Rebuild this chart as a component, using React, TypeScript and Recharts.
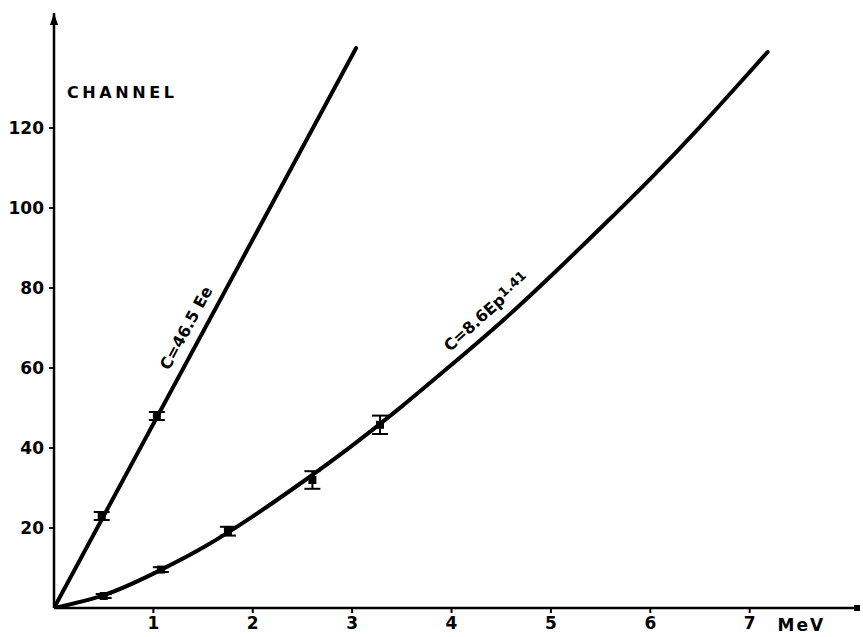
import React from 'react';
import {
  ComposedChart,
  Line,
  Scatter,
  ErrorBar,
  XAxis,
  YAxis,
  ReferenceDot,
} from 'recharts';

// Electron line, C = 46.5 Ee
const electronEnergy = [0, 3.04];
const electronChannel = [0, 140];

// Proton curve, C = 8.6 Ep^1.41
const protonEnergy = [0, 0.5, 1, 1.5, 2, 2.5, 3, 3.5, 4, 4.5, 5, 5.5, 6, 6.5, 7, 7.18];
const protonChannel = [0, 3.2, 8.6, 15.1, 22.9, 31.5, 40.6, 50.4, 60.8, 71.5, 83, 95, 107.3, 120.3, 134, 139];

// Measured points with their errors
const electronPointE = [0.48, 1.035];
const electronPointC = [23, 48];
const electronPointErr = [1, 1];

const protonPointE = [0.5, 1.075, 1.75, 2.6, 3.28];
const protonPointC = [3, 9.6, 19.2, 32, 45.8];
const protonPointErr = [0.5, 0.6, 1.1, 2.2, 2.3];

const xTicks = [1, 2, 3, 4, 5, 6, 7];
const yTicks = [20, 40, 60, 80, 100, 120];
const X_MAX = 8.11;
const Y_MAX = 148.75;

const FONT = '"DejaVu Sans", sans-serif';

const electronLine = electronEnergy.map((e, i) => ({ e, c: electronChannel[i] }));
const protonLine = protonEnergy.map((e, i) => ({ e, c: protonChannel[i] }));
const electronPoints = electronPointE.map((e, i) => ({ e, c: electronPointC[i], err: electronPointErr[i] }));
const protonPoints = protonPointE.map((e, i) => ({ e, c: protonPointC[i], err: protonPointErr[i] }));

const SquareMarker = (props: any) => (
  <rect x={props.cx - 4} y={props.cy - 4} width={8} height={8} fill="#000" />
);

const ArrowUp = (props: any) => (
  <polygon
    points={`${props.cx},${props.cy} ${props.cx - 4},${props.cy + 12} ${props.cx + 4},${props.cy + 12}`}
    fill="#000"
  />
);

const ArrowRight = (props: any) => (
  <rect x={props.cx - 6} y={props.cy - 3} width={6} height={6} fill="#000" />
);

const textStyle = { fontFamily: FONT, fontWeight: 700, fill: '#000' };

const App: React.FC = () => {
  return (
    <div style={{ width: 863, height: 637, background: '#fff' }}>
      <style>{`body { margin: 0; }`}</style>
      <ComposedChart
        width={863}
        height={637}
        margin={{ top: 13, right: 3, left: 6, bottom: 0 }}
      >
        <XAxis
          type="number"
          dataKey="e"
          domain={[0, X_MAX]}
          ticks={xTicks}
          allowDataOverflow
          height={29}
          axisLine={{ stroke: '#000', strokeWidth: 2.5 }}
          tickLine={{ stroke: '#000', strokeWidth: 2 }}
          tickSize={5}
          tickMargin={4}
          tick={{ ...textStyle, fontSize: 17 }}
        />
        <YAxis
          type="number"
          dataKey="c"
          domain={[0, Y_MAX]}
          ticks={yTicks}
          allowDataOverflow
          width={48}
          axisLine={{ stroke: '#000', strokeWidth: 2.5 }}
          tickLine={{ stroke: '#000', strokeWidth: 2 }}
          tickSize={5}
          tickMargin={5}
          tick={{ ...textStyle, fontSize: 17 }}
        />

        <Line
          data={electronLine}
          dataKey="c"
          type="linear"
          stroke="#000"
          strokeWidth={4}
          strokeLinecap="round"
          dot={false}
          isAnimationActive={false}
        />
        <Line
          data={protonLine}
          dataKey="c"
          type="natural"
          stroke="#000"
          strokeWidth={4}
          strokeLinecap="round"
          dot={false}
          isAnimationActive={false}
        />

        <Scatter data={electronPoints} dataKey="c" shape={SquareMarker} isAnimationActive={false}>
          <ErrorBar dataKey="err" direction="y" width={8} stroke="#000" strokeWidth={2} />
        </Scatter>
        <Scatter data={protonPoints} dataKey="c" shape={SquareMarker} isAnimationActive={false}>
          <ErrorBar dataKey="err" direction="y" width={8} stroke="#000" strokeWidth={2} />
        </Scatter>

        {/* axis arrowheads */}
        <ReferenceDot x={0} y={Y_MAX} r={0} shape={ArrowUp} ifOverflow="visible" />
        <ReferenceDot x={X_MAX} y={0} r={0} shape={ArrowRight} ifOverflow="visible" />

        {/* axis titles */}
        <ReferenceDot
          x={0.13}
          y={129}
          r={0}
          ifOverflow="visible"
          shape={(p: any) => (
            <text x={p.cx} y={p.cy + 6} {...textStyle} fontSize={16} letterSpacing={3.6}>
              CHANNEL
            </text>
          )}
        />
        <ReferenceDot
          x={7.52}
          y={0}
          r={0}
          ifOverflow="visible"
          shape={(p: any) => (
            <text x={p.cx} y={p.cy + 23} {...textStyle} fontSize={17} letterSpacing={2} textAnchor="middle">
              MeV
            </text>
          )}
        />

        {/* fit formulas along the curves */}
        <ReferenceDot
          x={1.33}
          y={70}
          r={0}
          ifOverflow="visible"
          shape={(p: any) => (
            <text
              x={p.cx}
              y={p.cy}
              {...textStyle}
              fontSize={16}
              textAnchor="middle"
              dominantBaseline="central"
              transform={`rotate(-61.5 ${p.cx} ${p.cy})`}
            >
              C=46.5 Ee
            </text>
          )}
        />
        <ReferenceDot
          x={4.35}
          y={74}
          r={0}
          ifOverflow="visible"
          shape={(p: any) => (
            <text
              x={p.cx}
              y={p.cy}
              {...textStyle}
              fontSize={16}
              textAnchor="middle"
              dominantBaseline="central"
              transform={`rotate(-42 ${p.cx} ${p.cy})`}
            >
              C=8.6Ep
              <tspan fontSize={13} dy={-4}>1.41</tspan>
            </text>
          )}
        />
      </ComposedChart>
    </div>
  );
};

export default App;
